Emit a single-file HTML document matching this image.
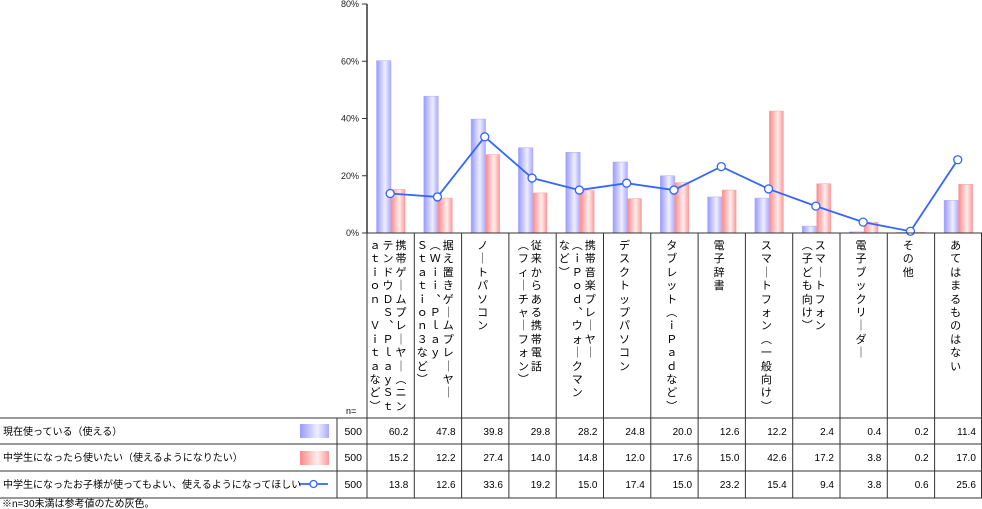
<!DOCTYPE html>
<html><head><meta charset="utf-8">
<style>
body{margin:0;width:982px;height:509px;background:#fff;position:relative;overflow:hidden;font-family:"Liberation Sans","Noto Sans CJK JP",sans-serif;color:#000}
.cat{position:absolute;top:239px;height:178px;width:47px}
.col{position:absolute;top:0;width:14px;display:flex;flex-direction:column;align-items:center}
.ch{height:13.4px;line-height:13.4px;font-family:"Noto Sans CJK JP",sans-serif;font-size:11px;text-align:center;width:14px}
</style></head><body>
<svg id="chart" width="982" height="509" style="position:absolute;left:0;top:0">
<defs>
<linearGradient id="gb" x1="0" x2="1" y1="0" y2="0"><stop offset="0" stop-color="#9999ff"/><stop offset="0.6" stop-color="#eeeeff"/><stop offset="1" stop-color="#aaaaff"/></linearGradient>
<linearGradient id="gr" x1="0" x2="1" y1="0" y2="0"><stop offset="0" stop-color="#ff8888"/><stop offset="0.6" stop-color="#ffeeee"/><stop offset="1" stop-color="#ff9999"/></linearGradient>
</defs>
<g id="plot"></g>
</svg>
<script>
const categories=["携帯ゲームプレーヤー（ニン|テンドウＤＳ、ＰｌａｙＳｔ|ａｔｉｏｎ　Ｖｉｔａなど）","据え置きゲームプレーヤー|（Ｗｉｉ、Ｐｌａｙ|Ｓｔａｔｉｏｎ３など）","ノートパソコン","従来からある携帯電話|（フィーチャーフォン）","携帯音楽プレーヤー|（ｉＰｏｄ、ウォークマン|など）","デスクトップパソコン","タブレット（ｉＰａｄなど）","電子辞書","スマートフォン（一般向け）","スマートフォン|（子ども向け）","電子ブックリーダー","その他","あてはまるものはない"];
const seriesNow=[60.2,47.8,39.8,29.8,28.2,24.8,20.0,12.6,12.2,2.4,0.4,0.2,11.4];
const seriesWant=[15.2,12.2,27.4,14.0,14.8,12.0,17.6,15.0,42.6,17.2,3.8,0.2,17.0];
const seriesParent=[13.8,12.6,33.6,19.2,15.0,17.4,15.0,23.2,15.4,9.4,3.8,0.6,25.6];
const seriesNames=["現在使っている（使える）","中学生になったら使いたい（使えるようになりたい）","中学生になったお子様が使ってもよい、使えるようになってほしい"];
const nValues=[500,500,500];
const yTicks=[0,20,40,60,80];

const NS="http://www.w3.org/2000/svg";
const g=document.getElementById('plot');
const X0=367,CW=47.3,Y0=233,YT=4,YMAX=80;
const y=v=>Y0-(v/YMAX)*(Y0-YT);
const cx=i=>X0+i*CW;
function mk(t,a){const e=document.createElementNS(NS,t);for(const k in a)e.setAttribute(k,a[k]);g.appendChild(e);return e;}
let e=mk('line',{x1:X0,y1:YT,x2:X0,y2:Y0,stroke:'#333','stroke-width':1.5});

yTicks.forEach(t=>{
 let l=mk('line',{x1:X0-5,y1:y(t),x2:X0,y2:y(t),stroke:'#333'});
 
 let tx=mk('text',{x:X0-8,y:y(t)+3,'text-anchor':'end','font-size':9,fill:'#222'});tx.textContent=t+'%';
 
});
categories.forEach((c,i)=>{
 let b=mk('rect',{x:cx(i)+9.5,y:y(seriesNow[i]),width:14.5,height:Y0-y(seriesNow[i]),fill:'url(#gb)',stroke:'#aaaaff','stroke-width':0.5});
 
 let r=mk('rect',{x:cx(i)+24,y:y(seriesWant[i]),width:14,height:Y0-y(seriesWant[i]),fill:'url(#gr)',stroke:'#ff9999','stroke-width':0.5});
 
});
let pts=seriesParent.map((v,i)=>(cx(i)+CW/2-0.5)+','+y(v)).join(' ');
let pl=mk('polyline',{points:pts,fill:'none',stroke:'#3366ff','stroke-width':1.8});

seriesParent.forEach((v,i)=>{
 let p=mk('circle',{cx:cx(i)+CW/2-0.5,cy:y(v),r:4,fill:'#fff',stroke:'#3366ff','stroke-width':1.3});
 
});
const rows=[418,444,471,498];
mk('line',{x1:X0,y1:Y0,x2:982,y2:Y0,stroke:'#333'});
rows.forEach(r=>{let l=mk('line',{x1:0,y1:r,x2:982,y2:r,stroke:'#333'});});
for(let i=0;i<=categories.length;i++){let xx=Math.min(cx(i),981.5);let l=mk('line',{x1:xx,y1:Y0,x2:xx,y2:498,stroke:'#333'});}
mk('line',{x1:337,y1:418,x2:337,y2:498,stroke:'#333'});
let s1=mk('rect',{x:300,y:424,width:29,height:14,fill:'url(#gb)'});
let s2=mk('rect',{x:300,y:451,width:29,height:14,fill:'url(#gr)'});
let s3=mk('line',{x1:299,y1:484,x2:328,y2:484,stroke:'#3366ff','stroke-width':1.8});
let s4=mk('circle',{cx:313.5,cy:484,r:3.5,fill:'#fff',stroke:'#3366ff','stroke-width':1.3});
const all=[seriesNow,seriesWant,seriesParent];
all.forEach((arr,ri)=>{
 const ty=rows[ri]+17;
 let t=mk('text',{x:3,y:ty,'font-size':10});t.textContent=seriesNames[ri];
 
 let n=mk('text',{x:362,y:ty,'font-size':10.5,'text-anchor':'end'});n.textContent=nValues[ri];
 
 arr.forEach((v,i)=>{let d=mk('text',{x:cx(i)+CW-6,y:ty,'font-size':10,'text-anchor':'end'});d.textContent=v.toFixed(1);
  });
});
let nn=mk('text',{x:346,y:414,'font-size':9});nn.textContent='n=';
let fn=mk('text',{x:2,y:507,'font-size':10});fn.textContent='※n=30未満は参考値のため灰色。';
const vmap={'（':'︵','）':'︶','ー':'｜','、':'︑'};
categories.forEach((c,i)=>{
 const d=document.createElement('div');d.className='cat';d.style.left=cx(i)+'px';
 
 
 const cols=c.split('|');const n=cols.length;const sp=13;
 cols.forEach((txt,k)=>{
  const col=document.createElement('div');col.className='col';
  const center=21+((n-1)/2-k)*sp;
  col.style.left=(center-7)+'px';
  [...txt].forEach(ch=>{const s=document.createElement('span');s.className='ch';s.textContent=vmap[ch]||ch;col.appendChild(s);});
  d.appendChild(col);
 });
 document.body.appendChild(d);
});
</script>
</body></html>
